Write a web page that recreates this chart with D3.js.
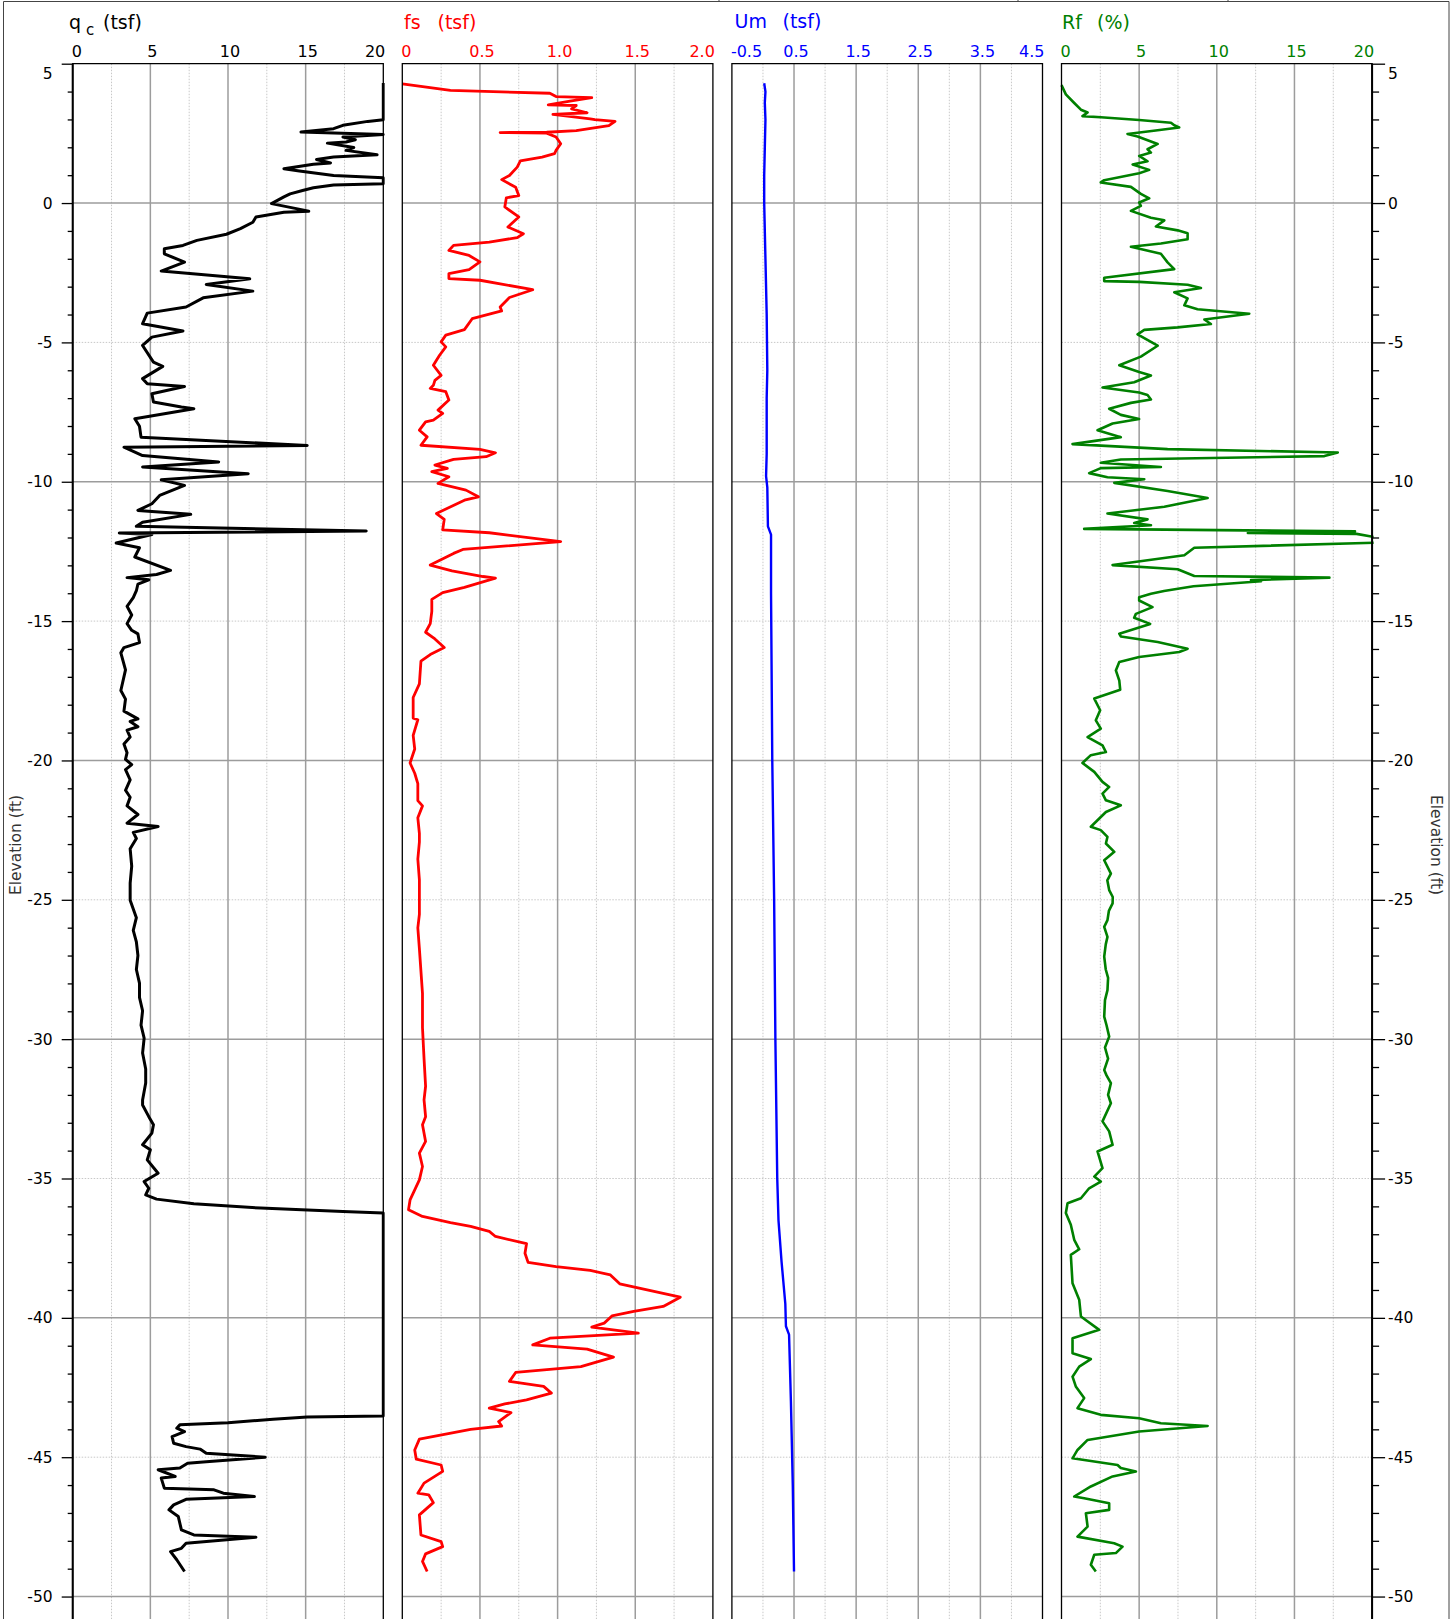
<!DOCTYPE html>
<html>
<head>
<meta charset="utf-8">
<script src="https://cdn.jsdelivr.net/npm/d3@7"></script>
<style>
  body { margin: 0; background: #fff; }
  svg { display: block; }
  text { font-family: "DejaVu Sans", Verdana, sans-serif; }
</style>
</head>
<body>
<div id="chart"></div>
<script>
// ---- data: [elevation (ft), value] ----
const qcData = [
  [4.31,20],[2.99,20],[2.93,19.0],[2.79,17.4],[2.67,16.8],[2.55,14.7],[2.46,20],[2.37,17.4],[2.27,18.2],
  [2.19,17.6],[2.15,16.4],[1.99,18.1],[1.89,17.6],[1.73,19.6],[1.65,16.8],[1.56,15.7],[1.44,16.6],[1.39,15.5],
  [1.23,13.6],[1.15,14.6],[0.99,16.8],[0.91,20],[0.69,20],[0.65,16.8],[0.55,15.5],[0.45,14.8],[0.33,14.0],
  [0.22,13.6],[-0.02,12.8],[-0.29,15.2],[-0.33,13.6],[-0.50,11.8],[-0.69,11.6],[-0.92,10.8],[-1.12,9.9],
  [-1.34,8.0],[-1.52,7.1],[-1.64,5.9],[-1.82,5.9],[-2.12,7.2],[-2.44,5.7],[-2.72,11.4],[-2.92,8.6],[-3.16,11.6],
  [-3.40,8.4],[-3.73,7.3],[-3.95,4.8],[-4.33,4.5],[-4.59,7.1],[-4.81,5.1],[-5.11,4.5],[-5.71,5.2],[-5.86,5.8],
  [-6.30,4.5],[-6.48,4.8],[-6.58,7.2],[-6.84,5.1],[-7.14,5.2],[-7.32,7.0],[-7.38,7.8],[-7.74,4.0],[-8.01,4.3],
  [-8.40,4.4],[-8.70,15.1],[-8.76,3.3],[-9.06,4.5],[-9.29,9.4],[-9.47,4.5],[-9.71,11.3],[-9.93,5.7],[-10.13,7.2],
  [-10.49,5.6],[-10.79,5.1],[-11.03,4.2],[-11.17,7.6],[-11.45,4.5],[-11.60,4.1],[-11.77,18.9],[-11.84,3.0],
  [-11.89,5.1],[-12.20,2.8],[-12.37,4.3],[-12.70,4.0],[-13.18,6.3],[-13.33,5.4],[-13.44,3.5],[-13.52,4.9],
  [-13.67,4.2],[-13.91,4.1],[-14.16,3.9],[-14.47,3.5],[-14.78,3.8],[-15.09,3.5],[-15.33,3.8],[-15.46,4.2],
  [-15.77,4.3],[-15.95,3.3],[-16.14,3.1],[-16.75,3.4],[-17.49,3.1],[-17.80,3.4],[-18.23,3.3],[-18.51,4.2],
  [-18.60,3.7],[-18.79,4.2],[-18.91,3.5],[-19.16,3.7],[-19.41,3.3],[-19.72,3.5],[-19.96,3.4],[-20.15,3.8],
  [-20.33,3.4],[-20.70,3.7],[-21.07,3.4],[-21.32,3.7],[-21.63,3.5],[-21.94,4.2],[-22.25,3.5],[-22.37,5.5],
  [-22.58,3.9],[-22.80,4.1],[-23.17,3.7],[-23.79,3.8],[-24.4,3.7],[-25.02,3.7],[-25.64,4.1],[-26.1,3.9],
  [-26.51,4.1],[-27.00,4.2],[-27.5,4.1],[-27.99,4.3],[-28.5,4.3],[-28.98,4.5],[-29.5,4.4],[-29.96,4.6],
  [-30.5,4.5],[-31.07,4.7],[-31.57,4.7],[-32.18,4.5],[-32.36,4.5],[-32.78,4.9],
  [-33.07,5.2],[-33.37,5.1],[-33.79,4.5],[-33.97,5.0],[-34.33,4.8],[-34.81,5.5],[-35.11,4.6],[-35.35,4.9],
  [-35.59,4.7],[-35.74,5.4],[-35.91,7.8],[-36.06,12.1],[-36.18,17.4],[-36.24,20],[-43.52,20],[-43.56,15.1],
  [-43.64,12.9],[-43.76,10.0],[-43.84,6.9],[-43.96,6.7],[-44.08,7.2],[-44.26,6.4],[-44.50,6.5],[-44.62,7.3],
  [-44.71,8.2],[-44.86,8.6],[-45.00,12.4],[-45.16,8.6],[-45.22,7.4],[-45.39,6.9],[-45.45,5.5],[-45.69,6.6],
  [-45.75,5.7],[-46.11,5.9],[-46.17,9.1],[-46.29,9.7],[-46.41,11.7],[-46.51,7.3],[-46.71,6.5],[-46.89,6.2],
  [-47.13,6.8],[-47.61,7.0],[-47.79,7.8],[-47.87,11.8],[-48.09,7.3],[-48.27,7.0],[-48.39,6.3],[-48.68,6.7],
  [-49.10,7.2]
];

const fsData = [
  [4.28,0.0],[4.04,0.31],[3.94,0.95],[3.82,0.99],[3.78,1.22],[3.66,1.08],[3.52,0.94],[3.50,1.12],[3.38,1.09],
  [3.24,1.19],[3.18,0.97],[3.02,1.21],[2.99,1.24],[2.93,1.37],[2.78,1.33],[2.60,1.12],[2.54,0.93],[2.53,0.63],
  [2.51,0.93],[2.37,0.99],[2.13,1.02],[1.89,0.99],[1.77,0.98],[1.65,0.90],[1.51,0.76],[1.29,0.74],[0.99,0.69],
  [0.84,0.64],[0.57,0.73],[0.27,0.75],[0.19,0.67],[-0.14,0.66],[-0.50,0.75],[-0.86,0.68],[-1.10,0.78],
  [-1.24,0.74],[-1.40,0.56],[-1.52,0.33],[-1.70,0.30],[-1.88,0.43],[-2.11,0.50],[-2.39,0.43],[-2.53,0.30],
  [-2.71,0.30],[-2.77,0.50],[-3.11,0.84],[-3.39,0.69],[-3.73,0.63],[-3.87,0.64],[-4.15,0.45],[-4.54,0.40],
  [-4.74,0.28],[-4.98,0.25],[-5.16,0.28],[-5.46,0.24],[-5.82,0.20],[-6.18,0.25],[-6.36,0.21],[-6.54,0.20],
  [-6.65,0.18],[-6.77,0.28],[-7.07,0.30],[-7.43,0.23],[-7.55,0.26],[-7.79,0.20],[-7.85,0.15],[-8.15,0.11],
  [-8.39,0.16],[-8.69,0.12],[-8.84,0.50],[-8.96,0.60],[-9.10,0.54],[-9.20,0.33],[-9.40,0.21],[-9.52,0.29],
  [-9.64,0.19],[-9.82,0.30],[-10.06,0.23],[-10.30,0.41],[-10.54,0.49],[-10.66,0.40],[-11.14,0.22],[-11.35,0.27],
  [-11.73,0.26],[-11.83,0.56],[-12.15,1.02],[-12.43,0.39],[-12.57,0.33],[-12.99,0.18],[-13.20,0.32],[-13.40,0.52],
  [-13.46,0.60],[-13.79,0.40],[-13.98,0.26],[-14.22,0.19],[-14.65,0.19],[-15.09,0.18],[-15.40,0.15],[-15.64,0.21],
  [-15.95,0.27],[-16.20,0.18],[-16.44,0.12],[-17.25,0.11],[-17.74,0.07],[-18.48,0.07],[-18.54,0.10],[-19.10,0.07],
  [-19.59,0.08],[-20.09,0.05],[-20.46,0.08],[-20.83,0.10],[-21.44,0.10],[-21.63,0.13],[-22.06,0.10],[-22.62,0.11],
  [-22.93,0.11],[-23.54,0.10],[-24.28,0.11],[-25.52,0.11],[-26.01,0.10],[-26.75,0.11],[-28.36,0.13],[-29.59,0.13],
  [-30.70,0.14],[-31.69,0.15],[-32.18,0.14],[-32.78,0.15],[-33.07,0.13],[-33.67,0.15],[-34.09,0.11],[-34.57,0.13],
  [-35.05,0.11],[-35.41,0.08],[-35.77,0.05],[-36.12,0.04],[-36.36,0.13],[-36.58,0.31],[-36.72,0.44],[-36.90,0.56],
  [-37.08,0.60],[-37.34,0.80],[-37.68,0.79],[-38.01,0.81],[-38.16,0.99],[-38.30,1.21],[-38.46,1.34],[-38.78,1.40],
  [-39.26,1.79],[-39.59,1.68],[-39.77,1.49],[-39.93,1.35],[-40.19,1.30],[-40.33,1.22],[-40.55,1.52],[-40.73,0.95],
  [-40.97,0.84],[-41.12,1.19],[-41.41,1.36],[-41.75,1.15],[-41.96,0.73],[-42.28,0.69],[-42.46,0.91],[-42.70,0.96],
  [-42.94,0.80],[-43.09,0.66],[-43.24,0.56],[-43.40,0.70],[-43.72,0.62],[-43.88,0.64],[-44.00,0.44],[-44.35,0.11],
  [-44.74,0.08],[-45.07,0.09],[-45.28,0.25],[-45.51,0.26],[-45.93,0.14],[-46.29,0.10],[-46.35,0.17],[-46.63,0.20],
  [-47.07,0.11],[-47.79,0.12],[-48.03,0.25],[-48.21,0.26],[-48.47,0.15],[-48.74,0.13],[-49.10,0.16]
];

const umData = [
  [4.3,0.02],[4.0,0.04],[3.6,0.03],[3.0,0.04],[2.0,0.03],[1.0,0.02],[0.0,0.02],[-2.0,0.04],[-4.0,0.06],
  [-6.0,0.07],[-7.0,0.06],[-9.0,0.06],[-9.8,0.05],[-10.2,0.07],[-11.6,0.08],[-11.9,0.13],[-14.0,0.13],
  [-20.0,0.15],[-25.0,0.18],[-30.0,0.20],[-35.0,0.23],[-36.5,0.25],[-38.0,0.30],[-39.5,0.36],[-40.3,0.37],
  [-40.6,0.42],[-43.0,0.45],[-46.0,0.48],[-49.1,0.50]
];

const rfData = [
  [4.23,0.0],[3.90,0.28],[3.59,0.82],[3.35,1.25],[3.25,1.68],[3.12,1.35],[3.08,2.53],[2.98,5.0],[2.88,7.05],
  [2.79,7.26],[2.71,7.58],[2.61,6.19],[2.48,4.25],[2.39,4.9],[2.12,6.19],[1.93,5.54],[1.81,5.76],[1.69,5.0],
  [1.50,5.54],[1.38,4.58],[1.19,5.65],[1.07,5.0],[0.82,2.75],[0.74,2.53],[0.58,4.47],[0.33,5.11],[0.17,5.65],
  [0.02,5.0],[-0.10,5.11],[-0.28,4.47],[-0.53,5.76],[-0.62,6.62],[-0.84,6.08],[-0.98,7.48],[-1.08,8.12],
  [-1.30,8.12],[-1.45,6.40],[-1.57,4.47],[-1.82,6.40],[-2.13,6.83],[-2.37,7.26],[-2.68,2.75],[-2.80,2.75],
  [-2.83,5.0],[-2.93,8.12],[-3.05,8.98],[-3.20,7.26],[-3.42,8.12],[-3.67,7.91],[-3.81,8.76],[-3.97,12.09],
  [-4.18,9.2],[-4.34,9.62],[-4.46,7.48],[-4.55,5.33],[-4.71,4.9],[-5.12,6.19],[-5.51,5.11],[-5.82,3.72],
  [-6.06,5.0],[-6.19,5.76],[-6.43,4.68],[-6.62,2.64],[-6.80,5.0],[-6.89,5.54],[-7.05,5.76],[-7.17,4.47],
  [-7.38,3.07],[-7.60,3.82],[-7.75,5.0],[-7.91,3.29],[-8.15,2.32],[-8.40,3.82],[-8.65,0.71],[-8.83,6.83],
  [-8.95,17.79],[-9.08,16.93],[-9.20,3.82],[-9.32,2.53],[-9.47,6.40],[-9.51,2.53],[-9.69,1.78],[-9.84,2.96],
  [-9.91,5.33],[-10.04,3.40],[-10.33,6.83],[-10.58,9.41],[-10.90,6.62],[-11.14,2.96],[-11.35,5.54],[-11.48,4.68],
  [-11.56,5.76],[-11.69,1.46],[-11.78,18.9],[-11.84,12.0],[-11.87,19.0],[-12.03,20.6],[-12.18,20.6],[-12.37,8.55],
  [-12.64,7.91],[-12.99,3.29],[-13.14,7.48],[-13.38,8.55],[-13.44,17.25],[-13.53,12.20],[-13.57,12.85],
  [-13.75,8.5],[-13.92,6.6],[-14.02,5.76],[-14.14,5.0],[-14.26,5.0],[-14.50,5.86],[-14.74,4.79],[-14.88,4.68],
  [-15.10,5.71],[-15.45,3.72],[-15.55,3.82],[-15.75,6.19],[-15.99,8.12],[-16.11,7.58],[-16.29,5.0],[-16.47,3.72],
  [-16.77,3.50],[-17.13,3.72],[-17.46,3.78],[-17.78,2.11],[-18.20,2.49],[-18.56,2.21],[-18.86,2.53],[-19.16,1.68],
  [-19.46,2.64],[-19.70,2.86],[-19.81,1.89],[-20.09,1.35],[-20.41,2.11],[-20.77,2.64],[-20.95,3.07],[-21.19,2.64],
  [-21.43,2.86],[-21.61,3.82],[-21.85,2.86],[-22.38,1.89],[-22.50,2.53],[-22.74,2.96],[-22.98,2.86],[-23.28,3.40],
  [-23.58,2.75],[-24.06,3.18],[-24.3,2.95],[-24.65,3.07],[-24.9,3.3],[-25.13,3.29],[-25.4,3.05],[-25.73,2.96],
  [-25.97,2.75],[-26.33,2.96],[-26.6,2.85],[-27.04,2.75],[-27.5,2.85],[-27.8,3.0],[-28.24,2.96],[-28.6,2.8],
  [-29.19,2.75],[-29.5,2.9],[-29.91,3.07],[-30.3,2.8],[-30.7,3.0],[-31.11,2.75],[-31.3,2.9],[-31.58,3.18],
  [-32.0,3.0],[-32.30,3.18],[-32.95,2.64],[-33.31,3.07],
  [-33.79,3.29],[-34.03,2.32],[-34.63,2.64],[-34.93,2.11],[-35.11,2.53],[-35.35,1.78],[-35.71,1.25],[-35.89,0.39],
  [-36.24,0.28],[-36.66,0.60],[-37.20,0.82],[-37.54,1.14],[-37.74,0.60],[-38.76,0.71],[-39.35,1.14],[-39.95,1.25],
  [-40.43,2.43],[-40.73,0.71],[-41.27,0.71],[-41.48,1.89],[-41.75,1.14],[-42.11,0.71],[-42.46,0.92],[-42.88,1.46],
  [-43.24,1.03],[-43.48,2.53],[-43.60,5.0],[-43.78,6.40],[-43.88,9.41],[-44.08,5.0],[-44.38,1.68],[-44.74,1.03],
  [-45.04,0.71],[-45.28,3.61],[-45.39,3.82],[-45.51,4.79],[-45.69,3.29],[-46.05,1.89],[-46.41,0.82],[-46.47,1.46],
  [-46.65,3.07],[-46.89,3.07],[-47.01,1.57],[-47.49,1.68],[-47.85,1.03],[-48.09,3.39],[-48.21,3.93],[-48.44,3.50],
  [-48.50,2.11],[-48.86,1.89],[-49.10,2.21]
];

// tick values and their labels
const qcTicks = [0, 5, 10, 15, 20];
const qcTickLabels = ['0', '5', '10', '15', '20'];
const fsTicks = [0, 0.5, 1.0, 1.5, 2.0];
const fsTickLabels = ['0', '0.5', '1.0', '1.5', '2.0'];
const umTicks = [-0.5, 0.5, 1.5, 2.5, 3.5, 4.5];
const umTickLabels = ['-0.5', '0.5', '1.5', '2.5', '3.5', '4.5'];
const rfTicks = [0, 5, 10, 15, 20];
const rfTickLabels = ['0', '5', '10', '15', '20'];
const elevMajor = d3.range(5, -51, -5);

// ---- layout ----
const W = 1455, H = 1619;
const plotTop = 63.7, ftPx = 27.87;
const firstLeft = 72.7, panelStep = 329.6, panelW = 310.6;

const svg = d3.select('#chart').append('svg')
    .attr('width', W)
    .attr('height', H);

const y = d3.scaleLinear().domain([5, -51]).range([plotTop, plotTop + 56 * ftPx]);

const panels = [
    { name: 'q', sub: 'c', unit: '(tsf)', nameX: 69, subX: 86, unitX: 103, titleY: 29,
      color: '#000000', data: qcData, domain: [0, 20], ticks: qcTicks, tickLabels: qcTickLabels,
      major: [5, 10, 15], minor: [2.5, 7.5, 12.5, 17.5], lineWidth: 3 },
    { name: 'fs', unit: '(tsf)', nameX: 404, unitX: 437.5, titleY: 29,
      color: '#ff0000', data: fsData, domain: [0, 2], ticks: fsTicks, tickLabels: fsTickLabels,
      major: [0.5, 1.0, 1.5], minor: [0.25, 0.75, 1.25, 1.75], lineWidth: 2.8 },
    { name: 'Um', unit: '(tsf)', nameX: 734.5, unitX: 782.5, titleY: 27.5,
      color: '#0000ff', data: umData, domain: [-0.5, 4.5], ticks: umTicks, tickLabels: umTickLabels,
      major: [0.5, 1.5, 2.5, 3.5], minor: [0, 1, 2, 3, 4], lineWidth: 2.4 },
    { name: 'Rf', unit: '(%)', nameX: 1062, unitX: 1097, titleY: 29,
      color: '#008000', data: rfData, domain: [0, 20], ticks: rfTicks, tickLabels: rfTickLabels,
      major: [5, 10, 15], minor: [2.5, 7.5, 12.5, 17.5], lineWidth: 2.6 }
];

// outer frame (remains of the sheet border)
svg.append('path')
    .attr('d', `M3.5,${H} V1.5 H1449 V${H}`)
    .attr('fill', 'none')
    .attr('stroke', '#444')
    .attr('stroke-width', 1);
[719, 1018, 1228].forEach(xv => {
    svg.append('line')
        .attr('x1', xv).attr('x2', xv)
        .attr('y1', 0).attr('y2', 2)
        .attr('stroke', '#444');
});

panels.forEach((p, i) => {
    const left = firstLeft + i * panelStep;
    const right = left + panelW;
    const x = d3.scaleLinear().domain(p.domain).range([left, right]);
    const g = svg.append('g').attr('class', 'panel');

    // minor (dotted) grid
    g.selectAll('.vminor').data(p.minor).enter().append('line')
        .attr('x1', d => x(d)).attr('x2', d => x(d))
        .attr('y1', plotTop).attr('y2', H)
        .attr('stroke', '#c8c8c8').attr('stroke-width', 1).attr('stroke-dasharray', '1.5,1.5');
    g.selectAll('.hminor').data(d3.range(-5, -51, -10)).enter().append('line')
        .attr('x1', left).attr('x2', right)
        .attr('y1', d => y(d)).attr('y2', d => y(d))
        .attr('stroke', '#c8c8c8').attr('stroke-width', 1).attr('stroke-dasharray', '1.5,1.5');

    // major (solid) grid
    g.selectAll('.vmajor').data(p.major).enter().append('line')
        .attr('x1', d => x(d)).attr('x2', d => x(d))
        .attr('y1', plotTop).attr('y2', H)
        .attr('stroke', '#9c9c9c').attr('stroke-width', 1.5);
    g.selectAll('.hmajor').data(d3.range(0, -51, -10)).enter().append('line')
        .attr('x1', left).attr('x2', right)
        .attr('y1', d => y(d)).attr('y2', d => y(d))
        .attr('stroke', '#9c9c9c').attr('stroke-width', 1.5);

    // data line, clipped to the panel
    const clipId = 'clip' + i;
    svg.append('clipPath').attr('id', clipId)
        .append('rect')
        .attr('x', left - 1.5).attr('y', plotTop - 3)
        .attr('width', panelW + 3).attr('height', H);

    const line = d3.line()
        .x(d => x(d[1]))
        .y(d => y(d[0]));

    g.append('path')
        .datum(p.data)
        .attr('clip-path', `url(#${clipId})`)
        .attr('d', line)
        .attr('fill', 'none')
        .attr('stroke', p.color)
        .attr('stroke-width', p.lineWidth)
        .attr('stroke-linejoin', 'round');

    // panel border
    g.append('path')
        .attr('d', `M${left},${H} V${plotTop} H${right} V${H}`)
        .attr('fill', 'none')
        .attr('stroke', '#000')
        .attr('stroke-width', 1.3);

    // title
    const title = g.append('text')
        .attr('y', p.titleY)
        .attr('fill', p.color)
        .attr('font-size', 19);
    title.append('tspan').attr('x', p.nameX).text(p.name);
    if (p.sub) {
        title.append('tspan').attr('x', p.subX).attr('dy', 6).attr('font-size', 15).text(p.sub);
        title.append('tspan').attr('x', p.unitX).attr('dy', -6).text(p.unit);
    } else {
        title.append('tspan').attr('x', p.unitX).text(p.unit);
    }

    // top tick labels, nudged to stay inside the panel
    g.selectAll('.tick-label')
        .data(p.ticks)
        .enter().append('text')
        .attr('class', 'tick-label')
        .attr('y', 57)
        .attr('fill', p.color)
        .attr('font-size', 16)
        .text((d, j) => p.tickLabels[j])
        .each(function (d) {
            const w = this.getComputedTextLength();
            let start = x(d) + 2 - w / 2;
            start = Math.max(start, left - 1);
            start = Math.min(start, right + 2 - w);
            d3.select(this).attr('x', start);
        });
});

// elevation axes
const elevMinor = d3.range(4, -52, -1).filter(d => d % 5 !== 0);
const rightEdge = firstLeft + 3 * panelStep + panelW;

function styleAxis(g) {
    g.select('.domain').remove();
    g.attr('font-family', '"DejaVu Sans", Verdana, sans-serif')
        .attr('font-size', 15.5)
        .attr('color', '#000');
    g.selectAll('.tick line').attr('stroke-width', 1.3);
    g.selectAll('.tick').filter(d => d === 5).select('text').attr('y', 10);
}

const leftAxis = svg.append('g').attr('transform', `translate(${firstLeft},0)`);
leftAxis.append('g')
    .call(d3.axisLeft(y).tickValues(elevMinor).tickSize(5).tickFormat(''))
    .call(styleAxis);
leftAxis.append('g')
    .call(d3.axisLeft(y).tickValues(elevMajor).tickSize(11).tickPadding(9).tickFormat(d => String(d)))
    .call(styleAxis);
leftAxis.append('line')
    .attr('y1', plotTop).attr('y2', H)
    .attr('stroke', '#000').attr('stroke-width', 2);

const rightAxis = svg.append('g').attr('transform', `translate(${rightEdge},0)`);
rightAxis.append('g')
    .call(d3.axisRight(y).tickValues(elevMinor).tickSize(7).tickFormat(''))
    .call(styleAxis);
rightAxis.append('g')
    .call(d3.axisRight(y).tickValues(elevMajor).tickSize(13).tickPadding(3).tickFormat(d => String(d)))
    .call(styleAxis);
rightAxis.append('line')
    .attr('y1', plotTop).attr('y2', H)
    .attr('stroke', '#000').attr('stroke-width', 2);

// axis titles
svg.append('text')
    .attr('transform', 'translate(15.5,845) rotate(-90)')
    .attr('text-anchor', 'middle')
    .attr('dy', '0.35em')
    .attr('font-family', '"Liberation Sans", Arial, sans-serif')
    .attr('font-size', 16.5)
    .attr('fill', '#333')
    .attr('textLength', 100)
    .attr('lengthAdjust', 'spacingAndGlyphs')
    .text('Elevation (ft)');

svg.append('text')
    .attr('transform', 'translate(1437,845) rotate(90)')
    .attr('text-anchor', 'middle')
    .attr('dy', '0.35em')
    .attr('font-family', '"Liberation Sans", Arial, sans-serif')
    .attr('font-size', 16.5)
    .attr('fill', '#333')
    .attr('textLength', 100)
    .attr('lengthAdjust', 'spacingAndGlyphs')
    .text('Elevation (ft)');
</script>
</body>
</html>
